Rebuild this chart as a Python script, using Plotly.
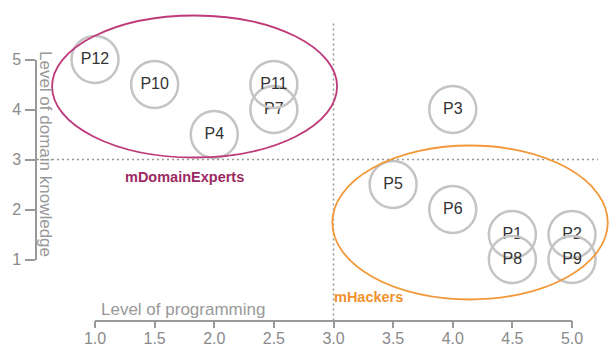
import plotly.graph_objects as go

# participants: level of programming (x) vs level of domain knowledge (y)
participants = ["P12", "P10", "P7", "P11", "P4", "P3", "P5", "P6", "P1", "P2", "P8", "P9"]
programming = [1.0, 1.5, 2.5, 2.5, 2.0, 4.0, 3.5, 4.0, 4.5, 5.0, 4.5, 5.0]
domain = [5.0, 4.5, 4.0, 4.5, 3.5, 4.0, 2.5, 2.0, 1.5, 1.5, 1.0, 1.0]

# clusters drawn as ellipses (x0, x1, y0, y1 in data units)
cluster_names = ["mDomainExperts", "mHackers"]
cluster_x0 = [0.64, 2.99]
cluster_x1 = [3.03, 5.30]
cluster_y0 = [3.04, 0.20]
cluster_y1 = [5.88, 3.28]
cluster_label_x = [1.75, 3.29]
cluster_label_y = [2.65, 0.25]
cluster_line = ["#bf3a7a", "#f29838"]
cluster_text = ["#9c2a62", "#f0922e"]

threshold = 3.0
tick_vals = [1.0, 1.5, 2.0, 2.5, 3.0, 3.5, 4.0, 4.5, 5.0]
y_tick_vals = [1, 2, 3, 4, 5]

W, H = 612, 348
# pixel positions of the visible axes
px_x1, px_x5 = 95, 572
px_y5, px_y1 = 59.5, 259.5
ux = 4 / (px_x5 - px_x1)
uy = 4 / (px_y1 - px_y5)

grey = "#999999"
font = "Liberation Sans, Arial, sans-serif"

fig = go.Figure()

# threshold lines
fig.add_shape(type="line", xref="x", yref="y",
              x0=1 - (px_x1 - 37) * ux, x1=1 + (598 - px_x1) * ux, y0=threshold, y1=threshold,
              line=dict(color=grey, width=1.5, dash="2px,3px"))
fig.add_shape(type="line", xref="x", yref="y",
              x0=threshold, x1=threshold, y0=1 - (320.5 - px_y1) * uy, y1=5 + (px_y5 - 21) * uy,
              line=dict(color=grey, width=1.5, dash="2px,3px"))

for i, name in enumerate(cluster_names):
    fig.add_shape(type="circle", xref="x", yref="y",
                  x0=cluster_x0[i], x1=cluster_x1[i], y0=cluster_y0[i], y1=cluster_y1[i],
                  line=dict(color=cluster_line[i], width=1.8))
    fig.add_annotation(x=cluster_label_x[i], y=cluster_label_y[i], xref="x", yref="y",
                       text="<b>" + name + "</b>", showarrow=False,
                       font=dict(family=font, size=14.5, color=cluster_text[i]))

for p, xv, yv in zip(participants, programming, domain):
    fig.add_trace(go.Scatter(
        x=[xv], y=[yv], text=[p], mode="markers+text",
        textposition="middle center",
        textfont=dict(family=font, size=16, color="#333333"),
        marker=dict(size=47, color="rgba(255,255,255,0)",
                    line=dict(color="#c4c4c4", width=2.5)),
        cliponaxis=False, showlegend=False, hoverinfo="skip",
    ))

# dummy trace so the display axes are drawn
fig.add_trace(go.Scatter(x=[], y=[], xaxis="x2", yaxis="y2", showlegend=False))

fig.update_layout(
    width=W, height=H,
    margin=dict(l=0, r=0, t=0, b=0),
    plot_bgcolor="rgba(0,0,0,0)", paper_bgcolor="white",
    xaxis=dict(range=[1 - px_x1 * ux, 1 + (W - px_x1) * ux], visible=False, automargin=False),
    yaxis=dict(range=[5 - (H - px_y5) * uy, 5 + px_y5 * uy], visible=False, automargin=False),
    xaxis2=dict(range=[1, 5], domain=[px_x1 / W, px_x5 / W], anchor="free",
                position=1 - 320.5 / H, side="bottom",
                tickvals=tick_vals, ticktext=[f"{v:.1f}" for v in tick_vals],
                showline=True, linecolor=grey, linewidth=1.5,
                ticks="outside", ticklen=7, tickwidth=1.5, tickcolor=grey,
                ticklabelstandoff=-3,
                showgrid=False, zeroline=False, automargin=False,
                tickfont=dict(family=font, size=16, color="#8a8a8a")),
    yaxis2=dict(range=[1, 5], domain=[1 - px_y1 / H, 1 - px_y5 / H], anchor="free",
                position=36 / W, side="left",
                tickvals=y_tick_vals,
                showline=True, linecolor=grey, linewidth=1.5,
                ticks="outside", ticklen=10, tickwidth=1.5, tickcolor=grey,
                ticklabelstandoff=1,
                showgrid=False, zeroline=False, automargin=False,
                tickfont=dict(family=font, size=16, color="#8a8a8a")),
)

fig.add_annotation(x=99 / W, y=1 - 309 / H, xref="paper", yref="paper",
                   xanchor="left", yanchor="middle", showarrow=False,
                   text="Level of programming",
                   font=dict(family=font, size=17, color=grey))
fig.add_annotation(x=46 / W, y=1 - 154 / H, xref="paper", yref="paper",
                   xanchor="center", yanchor="middle", showarrow=False, textangle=90,
                   text="Level of domain knowledge",
                   font=dict(family=font, size=17, color=grey))

# page has a default body margin; remove it so the chart fills the window
fig.write_html("out.html", config={"displayModeBar": False},
               post_script="document.body.style.margin='0px';")
